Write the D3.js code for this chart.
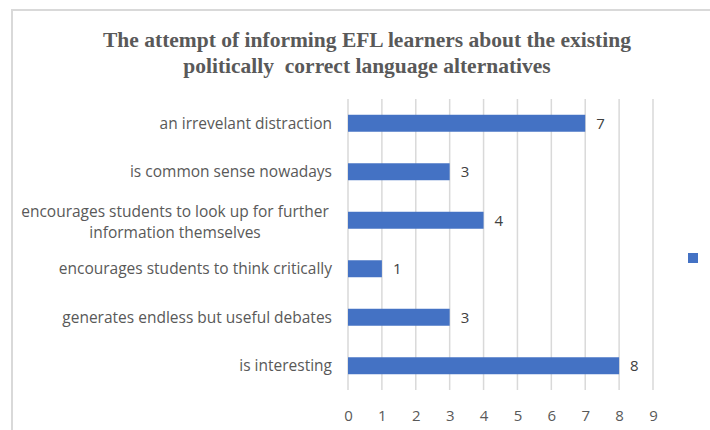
<!DOCTYPE html>
<html>
<head>
<meta charset="utf-8">
<script src="https://cdn.jsdelivr.net/npm/d3@7"></script>
<style>
  html, body { margin: 0; padding: 0; background: #fff; }
  svg { display: block; }
</style>
</head>
<body>
<svg id="chart" width="710" height="430"></svg>
<script>
// Survey responses, top to bottom
const categories = [
  "an irrevelant distraction",
  "is common sense nowadays",
  "encourages students to look up for further|information themselves",
  "encourages students to think critically",
  "generates endless but useful debates",
  "is interesting"
];
const values = [7, 3, 4, 1, 3, 8];
const tickValues = [0, 1, 2, 3, 4, 5, 6, 7, 8, 9];
const titleLines = [
  "The attempt of informing EFL learners about the existing",
  "politically  correct language alternatives"
];

const svg = d3.select("#chart");
const W = 710, H = 430;
const plot = { left: 348, right: 653, top: 99, bottom: 390 };
const labelFont = "'Open Sans', 'Liberation Sans', sans-serif";

// Chart frame (continues past the right and bottom edges)
svg.append("rect")
  .attr("x", 12).attr("y", 10)
  .attr("width", W + 10).attr("height", H + 10)
  .attr("fill", "#fff")
  .attr("stroke", "#d9d9d9").attr("stroke-width", 2);

// Title
svg.append("g").selectAll("text")
  .data(titleLines)
  .join("text")
  .attr("x", 367)
  .attr("y", (d, i) => 47 + i * 26)
  .attr("text-anchor", "middle")
  .attr("font-family", "'Liberation Serif', 'Times New Roman', serif")
  .attr("font-weight", "bold")
  .attr("font-size", 21.5)
  .attr("fill", "#595959")
  .attr("xml:space", "preserve")
  .style("white-space", "pre")
  .text(d => d);

const x = d3.scaleLinear().domain([0, 9]).range([plot.left, plot.right]);
const y = d3.scaleBand().domain(categories).range([plot.top, plot.bottom]).paddingInner(0.65).paddingOuter(0.325);

// Vertical gridlines
svg.append("g").selectAll("line")
  .data(tickValues)
  .join("line")
  .attr("x1", d => x(d)).attr("x2", d => x(d))
  .attr("y1", plot.top).attr("y2", plot.bottom)
  .attr("stroke", "#d9d9d9").attr("stroke-width", 1.5);

// Bottom tick labels
const xAxis = d3.axisBottom(x).tickValues(tickValues).tickSize(0).tickPadding(0).tickFormat(d3.format("d"));
const gx = svg.append("g").attr("transform", `translate(0, ${plot.bottom + 20})`).call(xAxis);
gx.select(".domain").remove();
gx.selectAll("text")
  .attr("font-family", labelFont)
  .attr("font-size", 15)
  .attr("fill", "#595959");

// Bars
svg.append("g").selectAll("rect")
  .data(values)
  .join("rect")
  .attr("x", x(0))
  .attr("y", (d, i) => y(categories[i]))
  .attr("width", d => x(d) - x(0))
  .attr("height", y.bandwidth())
  .attr("fill", "#4472c4");

// Value labels
svg.append("g").selectAll("text")
  .data(values)
  .join("text")
  .attr("x", d => x(d) + 11)
  .attr("y", (d, i) => y(categories[i]) + y.bandwidth() / 2)
  .attr("dy", "0.35em")
  .attr("font-family", labelFont)
  .attr("font-size", 15)
  .attr("fill", "#404040")
  .text(d => d);

// Category labels (multi-line labels are centred on their block)
const catG = svg.append("g");
categories.forEach((c, i) => {
  const lines = c.split("|");
  const cy = y(c) + y.bandwidth() / 2;
  const lh = 21;
  const t = catG.append("text")
    .attr("font-family", labelFont)
    .attr("font-size", 15.5)
    .attr("fill", "#595959");
  if (lines.length === 1) {
    t.attr("x", 332).attr("y", cy).attr("dy", "0.35em").attr("text-anchor", "end").text(c);
  } else {
    t.attr("text-anchor", "middle");
    lines.forEach((l, j) => {
      t.append("tspan")
        .attr("x", 175)
        .attr("y", cy + 1.5 + (j - (lines.length - 1) / 2) * lh)
        .attr("dy", "0.35em")
        .text(l);
    });
  }
});

// Legend marker
svg.append("rect")
  .attr("x", 688).attr("y", 253)
  .attr("width", 10).attr("height", 10)
  .attr("fill", "#4472c4");
</script>
</body>
</html>
